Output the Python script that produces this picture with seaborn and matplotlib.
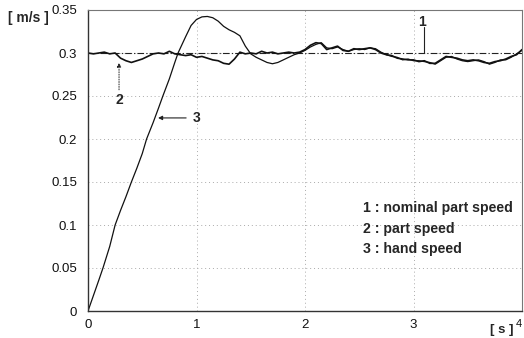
import numpy as np
import pandas as pd
import matplotlib
matplotlib.use("Agg")
import matplotlib.pyplot as plt
import seaborn as sns

# ---- data ----
t_part = [round(0.05 * i, 2) for i in range(81)]
part_speed = [0.300, 0.299, 0.300, 0.301, 0.299, 0.300, 0.294, 0.291, 0.289, 0.291,
              0.293, 0.296, 0.299, 0.300, 0.299, 0.302, 0.299, 0.298, 0.297, 0.298,
              0.295, 0.296, 0.294, 0.292, 0.291, 0.288, 0.287, 0.293, 0.301, 0.299,
              0.300, 0.299, 0.302, 0.300, 0.301, 0.299, 0.300, 0.301, 0.300, 0.301,
              0.304, 0.309, 0.312, 0.311, 0.304, 0.306, 0.308, 0.303, 0.302, 0.305,
              0.304, 0.305, 0.306, 0.304, 0.300, 0.298, 0.297, 0.294, 0.293, 0.292,
              0.292, 0.290, 0.291, 0.288, 0.288, 0.292, 0.296, 0.295, 0.294, 0.292,
              0.291, 0.292, 0.291, 0.289, 0.288, 0.290, 0.291, 0.293, 0.296, 0.298,
              0.304]

t_hand = [0.0, 0.05, 0.10, 0.138, 0.20, 0.25, 0.30, 0.35, 0.40, 0.45, 0.50, 0.54,
          0.60, 0.65, 0.69, 0.75, 0.80, 0.83, 0.90, 0.95, 1.00, 1.05, 1.10, 1.15,
          1.20, 1.25, 1.30, 1.35, 1.40, 1.45, 1.50, 1.55, 1.60, 1.65, 1.70, 1.75,
          1.80, 1.85, 1.90, 1.95,
          2.00, 2.05, 2.10, 2.15, 2.20, 2.25, 2.30, 2.35, 2.40, 2.45, 2.50, 2.55,
          2.60, 2.65, 2.70, 2.75, 2.80, 2.85, 2.90, 2.95, 3.00, 3.05, 3.10, 3.15,
          3.20, 3.25, 3.30, 3.35, 3.40, 3.45, 3.50, 3.55, 3.60, 3.65, 3.70, 3.75,
          3.80, 3.85, 3.90, 3.95, 4.00]
hand_speed = [0.0, 0.018, 0.036, 0.050, 0.075, 0.100, 0.117, 0.133, 0.150, 0.166,
              0.183, 0.200, 0.219, 0.236, 0.250, 0.270, 0.289, 0.300, 0.319, 0.332,
              0.339, 0.342, 0.3425, 0.341, 0.337, 0.331, 0.327, 0.324, 0.320, 0.308,
              0.299, 0.295, 0.292, 0.289, 0.2875, 0.289, 0.292, 0.295, 0.298, 0.300,
              0.303, 0.307, 0.310, 0.312, 0.306, 0.305, 0.307, 0.304, 0.302, 0.304,
              0.305, 0.304, 0.306, 0.305, 0.301, 0.298, 0.296, 0.295, 0.292, 0.293,
              0.291, 0.291, 0.290, 0.289, 0.287, 0.291, 0.295, 0.296, 0.293, 0.291,
              0.290, 0.291, 0.292, 0.290, 0.287, 0.289, 0.292, 0.292, 0.295, 0.299,
              0.303]

nominal_t = [0.0, 4.0]
nominal_speed = [0.3, 0.3]

x_ticks = [0, 1, 2, 3, 4]
x_ticklabels = ["0", "1", "2", "3", "4"]
y_ticks = [0, 0.05, 0.1, 0.15, 0.2, 0.25, 0.3, 0.35]
y_ticklabels = ["0", "0.05", "0.1", "0.15", "0.2", "0.25", "0.3", "0.35"]
legend_lines = ["1 : nominal part speed", "2 : part speed", "3 : hand speed"]

df_part = pd.DataFrame({"t": t_part, "v": part_speed})
df_hand = pd.DataFrame({"t": t_hand, "v": hand_speed})
df_nom = pd.DataFrame({"t": nominal_t, "v": nominal_speed})

# ---- figure ----
sns.set_style("white")
plt.rcParams["font.family"] = ["Liberation Sans", "DejaVu Sans"]

fig = plt.figure(figsize=(5.24, 3.38), dpi=100)
ax = fig.add_axes([88 / 524, 27 / 338, 434 / 524, 301 / 338])

ax.grid(True, color="#aaaaaa", linestyle=(0, (1, 3)), linewidth=0.7)
ax.set_axisbelow(True)

sns.lineplot(data=df_nom, x="t", y="v", ax=ax, color="#222222", linewidth=0.8,
             linestyle=(0, (6, 2, 1, 2)))
sns.lineplot(data=df_part, x="t", y="v", ax=ax, color="#111111", linewidth=1.2)
sns.lineplot(data=df_hand, x="t", y="v", ax=ax, color="#111111", linewidth=0.9)

ax.set_xlim(0, 4)
ax.set_ylim(0, 0.35)
ax.set_xticks(x_ticks)
ax.set_xticklabels(x_ticklabels)
ax.set_yticks(y_ticks)
ax.set_yticklabels(y_ticklabels)
ax.set_xlabel("")
ax.set_ylabel("")
ax.tick_params(axis="both", length=0, labelsize=9.5, pad=6, colors="#111111")
ax.tick_params(axis="y", pad=8)
# last x tick label sits at the right edge, tucked in
ax.get_xticklabels()[-1].set_horizontalalignment("right")
ax.get_xticklabels()[-1].set_fontsize(8)

for side in ["left", "bottom"]:
    ax.spines[side].set_color("#333333")
    ax.spines[side].set_linewidth(1.0)
for side in ["top", "right"]:
    ax.spines[side].set_color("#777777")
    ax.spines[side].set_linewidth(0.8)

# annotations
ax.text(3.08, 0.3355, "1", fontsize=10, fontweight="bold", ha="center", va="center")
ax.plot([3.1, 3.1], [0.330, 0.300], color="#222222", linewidth=0.8)

ax.text(0.286, 0.2448, "2", fontsize=10, fontweight="bold", ha="center", va="center")
ax.annotate("", xy=(0.286, 0.292), xytext=(0.286, 0.254),
            arrowprops=dict(arrowstyle="-|>", color="#222222", lw=0.7,
                            linestyle=(0, (1, 1.5)), mutation_scale=6))

ax.text(1.0, 0.2245, "3", fontsize=10, fontweight="bold", ha="center", va="center")
ax.annotate("", xy=(0.62, 0.2245), xytext=(0.93, 0.2245),
            arrowprops=dict(arrowstyle="-|>", color="#222222", lw=0.8, mutation_scale=6))

for i, line in enumerate(legend_lines):
    ax.text(2.53, 0.1195 - i * 0.0238, line, fontsize=10.2, fontweight="bold",
            ha="left", va="center")

fig.text(8 / 524, 1 - 18 / 338, "[ m/s ]", fontsize=10, fontweight="bold",
         ha="left", va="center")
fig.text(514 / 524, 8 / 338, "[ s ]", fontsize=9.5, fontweight="bold",
         ha="right", va="center")

fig.savefig("out.png", dpi=100)
